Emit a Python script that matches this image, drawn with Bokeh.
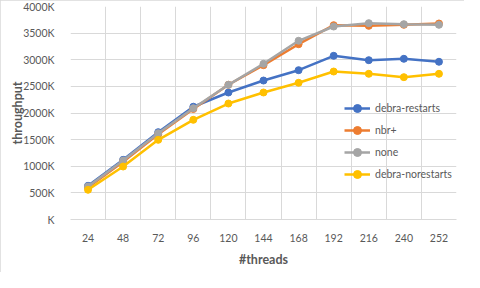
from bokeh.plotting import figure
from bokeh.models import FixedTicker, CustomJSTickFormatter, Legend, LegendItem, Range1d
from bokeh.embed import file_html
from bokeh.resources import INLINE

threads = ["24", "48", "72", "96", "120", "144", "168", "192", "216", "240", "252"]
debra_restarts = [633, 1121, 1640, 2118, 2385, 2610, 2804, 3074, 2992, 3018, 2962]
nbr_plus = [600, 1085, 1600, 2075, 2530, 2898, 3292, 3649, 3637, 3656, 3681]
none_ = [620, 1108, 1621, 2090, 2529, 2924, 3356, 3624, 3687, 3668, 3656]
debra_norestarts = [558, 995, 1496, 1872, 2178, 2385, 2567, 2779, 2736, 2673, 2736]
y_ticks = [0, 500, 1000, 1500, 2000, 2500, 3000, 3500, 4000]

series = [
    ("debra-restarts", debra_restarts, "#4472C4"),
    ("nbr+", nbr_plus, "#ED7D31"),
    ("none", none_, "#A5A5A5"),
    ("debra-norestarts", debra_norestarts, "#FFC000"),
]

n = len(threads)
xs = [i + 0.5 for i in range(n)]

FONT = "Lato"
TXT = "#595959"
GRID = "#d9d9d9"

p = figure(width=464, height=272, output_backend="svg", toolbar_location=None,
           x_range=Range1d(0, n), y_range=Range1d(0, y_ticks[-1]),
           min_border_left=70, min_border_right=8, min_border_top=6, min_border_bottom=53)
p.styles = {"outline": "1px solid #d9d9d9", "outline-offset": "-1px"}
p.outline_line_color = None
p.background_fill_color = "white"
p.border_fill_color = "white"

# x axis
p.xaxis.ticker = FixedTicker(ticks=xs)
p.xaxis.major_label_overrides = {x: t for x, t in zip(xs, threads)}
p.xaxis.axis_line_color = GRID
p.xaxis.major_tick_line_color = None
p.xaxis.minor_tick_line_color = None
p.xaxis.major_label_standoff = 8
p.xaxis.axis_label = "#threads"
p.xaxis.axis_label_standoff = 7
p.xgrid.ticker = FixedTicker(ticks=list(range(n + 1)))
p.xgrid.grid_line_color = GRID

# y axis
p.yaxis.ticker = FixedTicker(ticks=y_ticks)
p.yaxis.formatter = CustomJSTickFormatter(code="return (tick == 0 ? '' : tick.toFixed(0)) + 'K';")
p.yaxis.axis_line_color = None
p.yaxis.major_tick_line_color = None
p.yaxis.minor_tick_line_color = None
p.yaxis.major_label_standoff = 10
p.yaxis.axis_label = "throughput"
p.yaxis.axis_label_standoff = -5
p.ygrid.grid_line_color = GRID

for ax in (p.xaxis[0], p.yaxis[0]):
    ax.major_label_text_font = FONT
    ax.major_label_text_font_size = "10.5px"
    ax.major_label_text_color = TXT
    ax.axis_label_text_font = FONT
    ax.axis_label_text_font_size = "12.5px"
    ax.axis_label_text_font_style = "bold"
    ax.axis_label_text_color = TXT

items = []
for name, vals, color in series:
    ys = vals
    r1 = p.line(xs, ys, line_color=color, line_width=2.5)
    r2 = p.scatter(xs, ys, marker="circle", size=7, fill_color=color, line_color=color)
    items.append(LegendItem(label=name, renderers=[r1, r2]))

legend = Legend(items=items, location=(274, 35), border_line_color=None,
                background_fill_alpha=0, padding=0, margin=0, spacing=2,
                glyph_width=26, glyph_height=20, label_height=20, label_standoff=5,
                label_text_font=FONT, label_text_font_size="10.5px", label_text_color=TXT)
p.add_layout(legend, "center")

open("out.html", "w").write(file_html(p, INLINE))
